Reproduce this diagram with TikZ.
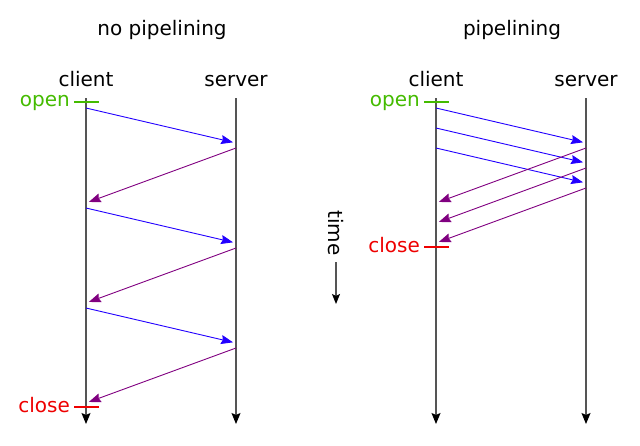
\documentclass[tikz,border=0pt]{standalone}
\usepackage{fontspec}
\setmainfont{DejaVu Sans}
\usetikzlibrary{arrows.meta}
\definecolor{reqblue}{HTML}{2200FF}
\definecolor{resppurple}{HTML}{800080}
\definecolor{opengreen}{HTML}{44BB00}
\definecolor{closered}{HTML}{EE0000}
\definecolor{lifegray}{HTML}{555555}
\tikzset{
  lbl/.style={font=\fontsize{20}{24}\selectfont, inner sep=0pt, anchor=base},
  lifeline/.style={draw=lifegray, line width=1.2pt, -{Stealth[length=11pt,width=9pt,inset=2pt,color=black]}},
  req/.style={draw=reqblue, line width=0.9pt, -{Stealth[length=12pt,width=9pt,inset=1.5pt]}, shorten >=3pt},
  resp/.style={draw=resppurple, line width=0.9pt, -{Stealth[length=12pt,width=9pt,inset=1.5pt]}, shorten >=3pt},
  tick/.style={line width=1.3pt},
}
\begin{document}
\begin{tikzpicture}[x=1pt,y=-1pt]
\useasboundingbox (0,0) rectangle (640,445);
% titles
\node[lbl] (t1) at (162,35) {no pipelining};
\node[lbl] (t2) at (512,35) {pipelining};
% labels
\node[lbl] (c1) at (86,86) {client};
\node[lbl] (s1) at (236,86) {server};
\node[lbl] (c2) at (436,86) {client};
\node[lbl] (s2) at (586,86) {server};
% lifelines
\coordinate (c1t) at (86,98); \coordinate (c1b) at (86,424);
\coordinate (s1t) at (236,98); \coordinate (s1b) at (236,424);
\coordinate (c2t) at (436,98); \coordinate (c2b) at (436,424);
\coordinate (s2t) at (586,98); \coordinate (s2b) at (586,424);
\draw[lifeline] (c1t) -- (c1b);
\draw[lifeline] (s1t) -- (s1b);
\draw[lifeline] (c2t) -- (c2b);
\draw[lifeline] (s2t) -- (s2b);
% open / close left
\coordinate (o1a) at (74,102); \coordinate (o1b) at (99,102);
\draw[tick,opengreen] (o1a) -- (o1b);
\node[lbl,anchor=base east,text=opengreen] (open1) at (70,106) {open};
\coordinate (k1a) at (74,407); \coordinate (k1b) at (99,407);
\draw[tick,closered] (k1a) -- (k1b);
\node[lbl,anchor=base east,text=closered] (close1) at (70,412) {close};
% open / close right
\coordinate (o2a) at (424,102); \coordinate (o2b) at (449,102);
\draw[tick,opengreen] (o2a) -- (o2b);
\node[lbl,anchor=base east,text=opengreen] (open2) at (420,106) {open};
\coordinate (k2a) at (424,247); \coordinate (k2b) at (449,247);
\draw[tick,closered] (k2a) -- (k2b);
\node[lbl,anchor=base east,text=closered] (close2) at (420,252) {close};
% left messages
\coordinate (a1) at (86,108); \coordinate (b1) at (236,143);
\coordinate (a2) at (236,148); \coordinate (b2) at (86,203);
\coordinate (a3) at (86,208); \coordinate (b3) at (236,243);
\coordinate (a4) at (236,248); \coordinate (b4) at (86,303);
\coordinate (a5) at (86,308); \coordinate (b5) at (236,343);
\coordinate (a6) at (236,348); \coordinate (b6) at (86,403);
\draw[req] (a1) -- (b1);
\draw[resp] (a2) -- (b2);
\draw[req] (a3) -- (b3);
\draw[resp] (a4) -- (b4);
\draw[req] (a5) -- (b5);
\draw[resp] (a6) -- (b6);
% right messages
\coordinate (p1) at (436,108); \coordinate (q1) at (586,143);
\coordinate (p2) at (436,128); \coordinate (q2) at (586,163);
\coordinate (p3) at (436,148); \coordinate (q3) at (586,183);
\coordinate (r1) at (586,148); \coordinate (u1) at (436,203);
\coordinate (r2) at (586,168); \coordinate (u2) at (436,223);
\coordinate (r3) at (586,188); \coordinate (u3) at (436,243);
\draw[req] (p1) -- (q1);
\draw[req] (p2) -- (q2);
\draw[req] (p3) -- (q3);
\draw[resp] (r1) -- (u1);
\draw[resp] (r2) -- (u2);
\draw[resp] (r3) -- (u3);
% time
\node[lbl,anchor=center,rotate=-90] (time) at (336,233) {time};
\coordinate (tt) at (336,262); \coordinate (tb) at (336,304);
\draw[draw=lifegray,line width=1.2pt,-{Stealth[length=10pt,width=8pt,inset=2pt,color=black]}] (tt) -- (tb);
\end{tikzpicture}
\end{document}
